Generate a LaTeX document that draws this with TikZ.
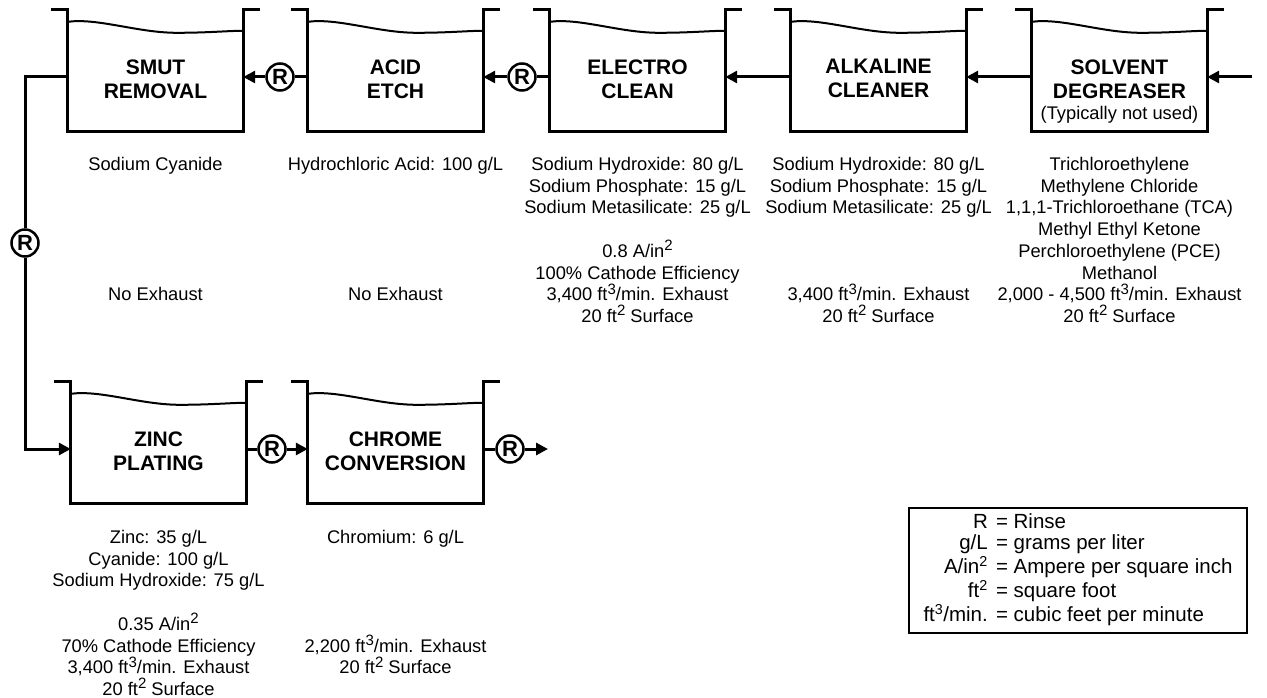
\documentclass[tikz,border=0pt]{standalone}
\usepackage{fontspec}
\setmainfont{Liberation Sans}
\usetikzlibrary{arrows.meta,positioning,calc}

\tikzset{
  wall/.style={line width=3pt, line join=miter},
  water/.style={line width=2pt},
  pipe/.style={line width=3pt, line join=miter},
  flow/.style={pipe, -{Triangle[length=12pt,width=12pt]}},
  tankbody/.style={minimum width=175pt, minimum height=108pt, inner sep=0pt},
  tanktitle/.style={anchor=north, inner sep=0pt, align=center, font=\fontsize{21}{24}\selectfont\bfseries},
  rinse/.style={circle, draw, line width=2.5pt, minimum size=27pt, inner sep=0pt, font=\fontsize{22}{22}\selectfont\bfseries},
  desc/.style={anchor=base, inner sep=0pt, align=center, font=\fontsize{18.3}{21.7}\selectfont},
  legendbox/.style={draw, line width=1.3pt, minimum width=338pt, minimum height=125pt, inner sep=0pt, font=\fontsize{20.5}{21.5}\selectfont},
}

% tank: name, left wall x, lip y, title
\newcommand{\tank}[4]{%
  \node[tankbody] (#1) at (#2+87.5,#3+67) {};
  \node[tanktitle] (#1-title) at ([yshift=-36.5pt]#1.north) {#4};
  \draw[wall] ([xshift=-17pt,yshift=13pt]#1.north west) -- ([yshift=13pt]#1.north west)
    -- (#1.south west) -- (#1.south east) -- ([yshift=13pt]#1.north east)
    -- ([xshift=17pt,yshift=13pt]#1.north east);
  \begin{scope}[shift={(#1.north west)}]
    \draw[water] (0,-1) .. controls (30,-5) and (70,10) .. (109,10)
      .. controls (140,10) and (160,8) .. (175,8);
  \end{scope}
}
% large raised exponents of the data texts
\newcommand{\sq}{\raisebox{0.36em}{\fontsize{15}{15}\selectfont 2}}
\newcommand{\cu}{\raisebox{0.36em}{\fontsize{15}{15}\selectfont 3}}

\begin{document}
\begin{tikzpicture}[x=1pt,y=-1pt]
\useasboundingbox (0,0) rectangle (1267,698);

% upper row, flow runs right to left
\tank{smut}{68}{10}{SMUT\\REMOVAL}
\tank{acid}{308}{10}{ACID\\ETCH}
\tank{electro}{550}{10}{ELECTRO\\CLEAN}
\tank{alkaline}{791}{10}{ALKALINE\\CLEANER}
\tank{solvent}{1032}{10}{SOLVENT\\DEGREASER\\[-3pt]{\fontsize{18.3}{24}\selectfont\mdseries (Typically not used)}}
% lower row
\tank{zinc}{71}{382}{ZINC\\PLATING}
\tank{chrome}{308}{382}{CHROME\\CONVERSION}

% rinses and flow
\coordinate (feed) at (1252,77);
\draw[flow] (feed) -- (solvent.east);
\draw[flow] (solvent.west) -- (alkaline.east);
\draw[flow] (alkaline.west) -- (electro.east);
\node[rinse] (r-electro) at (522,77) {R};
\draw[pipe] (electro.west) -- (r-electro);
\draw[flow] (r-electro) -- (acid.east);
\node[rinse] (r-acid) at (280,77) {R};
\draw[pipe] (acid.west) -- (r-acid);
\draw[flow] (r-acid) -- (smut.east);
\node[rinse] (r-smut) at (25,243) {R};
\draw[pipe] (smut.west) -| (r-smut);
\draw[flow] (r-smut) |- (zinc.west);
\node[rinse] (r-zinc) at (272,449) {R};
\draw[pipe] (zinc.east) -- (r-zinc);
\draw[flow] (r-zinc) -- (chrome.west);
\node[rinse] (r-chrome) at (510,449) {R};
\coordinate (out) at (548,449);
\draw[pipe] (chrome.east) -- (r-chrome);
\draw[flow] (r-chrome) -- (out);

% bath contents and exhaust data (placed by the baseline of the last line)
\node[desc] (smut-bath) at (155.5,170.5) {Sodium Cyanide};
\node[desc] (smut-air) at (155.5,300.7) {No Exhaust};
\node[desc] (acid-bath) at (395.5,170.5) {Hydrochloric Acid: 100 g/L};
\node[desc] (acid-air) at (395.5,300.7) {No Exhaust};
\node[desc] (electro-bath) at (637.5,213.9) {Sodium Hydroxide: 80 g/L\\Sodium Phosphate: 15 g/L\\Sodium Metasilicate: 25 g/L};
\node[desc] (electro-air) at (637.5,322.4) {0.8 A/in\sq\\100\% Cathode Efficiency\\3,400 ft\cu/min. Exhaust\\20 ft\sq{} Surface};
\node[desc] (alkaline-bath) at (878.5,213.9) {Sodium Hydroxide: 80 g/L\\Sodium Phosphate: 15 g/L\\Sodium Metasilicate: 25 g/L};
\node[desc] (alkaline-air) at (878.5,322.4) {3,400 ft\cu/min. Exhaust\\20 ft\sq{} Surface};
\node[desc] (solvent-bath) at (1119.5,279) {Trichloroethylene\\Methylene Chloride\\1,1,1-Trichloroethane (TCA)\\Methyl Ethyl Ketone\\Perchloroethylene (PCE)\\Methanol};
\node[desc] (solvent-air) at (1119.5,322.4) {2,000 - 4,500 ft\cu/min. Exhaust\\20 ft\sq{} Surface};
\node[desc] (zinc-bath) at (158.5,586.9) {Zinc: 35 g/L\\Cyanide: 100 g/L\\Sodium Hydroxide: 75 g/L};
\node[desc] (zinc-air) at (158.5,695.4) {0.35 A/in\sq\\70\% Cathode Efficiency\\3,400 ft\cu/min. Exhaust\\20 ft\sq{} Surface};
\node[desc] (chrome-bath) at (395.5,543.5) {Chromium: 6 g/L};
\node[desc] (chrome-air) at (395.5,673.7) {2,200 ft\cu/min. Exhaust\\20 ft\sq{} Surface};

% legend
\node[legendbox] (legend) at (1078,570.5) {%
  \begin{tabular}{@{}r@{\hspace{0.4em}}l@{}}
    R & = Rinse\\
    g/L & = grams per liter\\
    A/in\textsuperscript{2} & = Ampere per square inch\\
    ft\textsuperscript{2} & = square foot\\
    ft\textsuperscript{3}/min. & = cubic feet per minute
  \end{tabular}};
\end{tikzpicture}
\end{document}
